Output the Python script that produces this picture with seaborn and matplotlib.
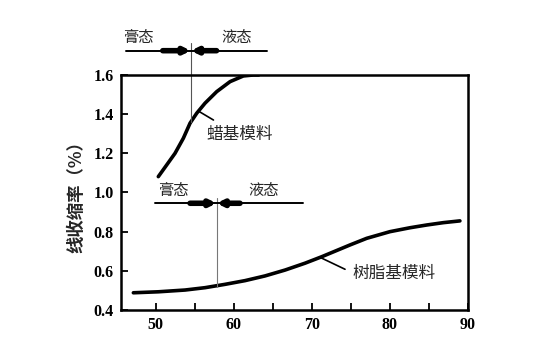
import matplotlib
matplotlib.use("Agg")
import matplotlib.pyplot as plt
import seaborn as sns
import pandas as pd
import numpy as np

# ---- data ----
wax_x = [50.33, 51.41, 52.47, 53.54, 54.40, 55.26, 56.32, 57.82, 59.53, 61.23, 62.51, 63.2]
wax_y = [1.081, 1.141, 1.200, 1.277, 1.354, 1.405, 1.456, 1.515, 1.566, 1.595, 1.600, 1.600]

resin_x = [47.13, 50.33, 53.76, 56.32, 58.88, 61.45, 64.01, 66.58, 69.14, 71.28,
           74.9, 77.05, 80.03, 82.6, 84.74, 86.87, 89.0]
resin_y = [0.488, 0.493, 0.502, 0.514, 0.531, 0.550, 0.574, 0.604, 0.639, 0.672,
           0.732, 0.766, 0.800, 0.820, 0.834, 0.846, 0.855]

x_ticks = [50, 60, 70, 80, 90]
x_minor = [55, 65, 75, 85]
y_ticks = [0.4, 0.6, 0.8, 1.0, 1.2, 1.4, 1.6]
y_label = "线收缩率（%）"
wax_label = "蜡基模料"
resin_label = "树脂基模料"
state_paste = "膏态"
state_liquid = "液态"

sns.set_theme(style="white")
plt.rcParams['font.family'] = ['Noto Sans CJK SC', 'DejaVu Sans']

fig = plt.figure(figsize=(5.33, 3.52), dpi=100)
ax = fig.add_axes([0.2265, 0.1193, 0.651, 0.6677])

wax_df = pd.DataFrame({"t": wax_x, "s": wax_y})
resin_df = pd.DataFrame({"t": resin_x, "s": resin_y})
sns.lineplot(data=wax_df, x="t", y="s", ax=ax, color="black", lw=2.6, sort=False,
             solid_joinstyle="round", solid_capstyle="round")
sns.lineplot(data=resin_df, x="t", y="s", ax=ax, color="black", lw=2.6, sort=False,
             solid_joinstyle="round", solid_capstyle="round")

ax.set_xlim(45.51, 90)
ax.set_ylim(0.4, 1.6)
ax.set_xticks(x_ticks)
ax.set_xticks(x_minor, minor=True)
ax.set_yticks(y_ticks)
ax.set_yticklabels([f"{v:.1f}" for v in y_ticks])
ax.set_xlabel("")
ax.set_ylabel(y_label, fontsize=12.5, fontweight="bold", labelpad=6)
for lab in ax.get_xticklabels() + ax.get_yticklabels():
    lab.set_family(["Liberation Serif"])
    lab.set_fontweight("bold")
    lab.set_fontsize(11.5)
ax.tick_params(axis="both", which="both", direction="in", length=5, width=1.3,
               color="black", pad=5, colors="black")
ax.tick_params(axis="x", which="minor", bottom=True, length=5, width=1.3)
ax.tick_params(axis="x", which="major", bottom=True)
ax.tick_params(axis="y", which="major", left=True)
for sp in ax.spines.values():
    sp.set_color("black")
    sp.set_linewidth(1.8)
    sp.set_visible(True)

# vertical marker lines
ax.plot([54.5, 54.5], [1.765, 1.36], color="#555555", lw=0.8, clip_on=False)
ax.plot([57.8, 57.8], [0.972, 0.516], color="#777777", lw=0.8, clip_on=False)

# state bars
def state_bar(y, x0, x1, a0, mid, a1, lx_p, lx_l, ly):
    ax.plot([x0, x1], [y, y], color="black", lw=1.4, clip_on=False)
    for start in (a0, a1):
        ax.annotate("", xy=(mid, y), xytext=(start, y), xycoords="data",
                    annotation_clip=False,
                    arrowprops=dict(arrowstyle="-|>", lw=4, color="black",
                                    mutation_scale=8, shrinkA=0, shrinkB=0))
    ax.text(lx_p, ly, state_paste, fontsize=11, ha="center", va="center", clip_on=False)
    ax.text(lx_l, ly, state_liquid, fontsize=11, ha="center", va="center", clip_on=False)

state_bar(1.724, 46.19, 64.23, 50.9, 54.5, 57.8, 47.73, 60.42, 1.789)
state_bar(0.945, 49.9, 68.92, 54.4, 57.8, 60.8, 52.26, 63.8, 1.008)

# labels with leader lines
ax.plot([55.5, 57.4], [1.415, 1.37], color="black", lw=1.2)
ax.text(56.54, 1.294, wax_label, fontsize=12, ha="left", va="center")
ax.plot([71.06, 74.27], [0.669, 0.608], color="black", lw=1.2)
ax.text(75.2, 0.589, resin_label, fontsize=12, ha="left", va="center")

fig.savefig("out.png", dpi=100)
